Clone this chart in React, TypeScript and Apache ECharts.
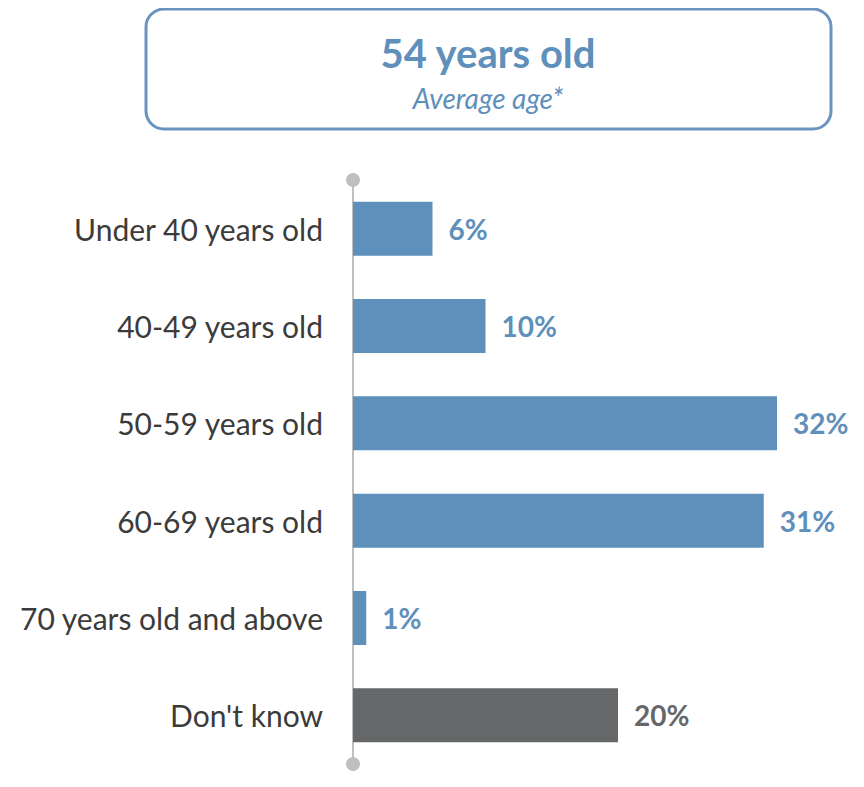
import React, { useEffect, useRef } from "react";
import * as echarts from "echarts";

const categories = [
  "Under 40 years old",
  "40-49 years old",
  "50-59 years old",
  "60-69 years old",
  "70 years old and above",
  "Don't know",
];
const values = [6, 10, 32, 31, 1, 20];
const isOther = [false, false, false, false, false, true];
const headline = "54 years old";
const subline = "Average age*";

const BLUE = "#5f8fbb";
const GRAY = "#666769";
const FONT = "Lato";

export default function App() {
  const ref = useRef<HTMLDivElement>(null);
  useEffect(() => {
    if (!ref.current) return;
    const chart = echarts.init(ref.current, null, { renderer: "svg" });
    chart.setOption({
      animation: false,
      textStyle: { fontFamily: FONT },
      grid: { left: 345, top: 172, height: 584, width: 424, containLabel: false },
      xAxis: {
        type: "value",
        min: 0,
        max: 32,
        show: false,
      },
      yAxis: {
        type: "category",
        data: categories,
        inverse: true,
        axisTick: { show: false },
        axisLine: {
          show: true,
          symbol: ["circle", "circle"],
          symbolSize: [14, 14],
          lineStyle: { color: "#bfbfbf", width: 2 },
        },
        axisLabel: {
          fontSize: 30,
          color: "#3b3b3b",
          margin: 30,
          fontFamily: FONT,
        },
      },
      series: [
        {
          type: "bar",
          barWidth: 54,
          data: values.map((v, i) => ({
            value: v,
            itemStyle: { color: isOther[i] ? GRAY : BLUE },
            label: { color: isOther[i] ? GRAY : BLUE },
          })),
          label: {
            show: true,
            position: "right",
            distance: 16,
            formatter: "{c}%",
            fontSize: 28,
            fontWeight: "bold",
            fontFamily: FONT,
          },
        },
      ],
      graphic: [
        {
          type: "rect",
          shape: { x: 138, y: 1, width: 685, height: 120, r: 18 },
          style: { fill: "#fff", stroke: "#6a93bf", lineWidth: 3 },
        },
        {
          type: "text",
          x: 480,
          y: 45,
          style: {
            text: headline,
            fontSize: 40,
            fontWeight: "bold",
            fontFamily: FONT,
            fill: BLUE,
            align: "center",
            verticalAlign: "middle",
          },
        },
        {
          type: "text",
          x: 480,
          y: 90,
          style: {
            text: subline,
            fontSize: 28,
            fontStyle: "italic",
            fontFamily: FONT,
            fill: BLUE,
            align: "center",
            verticalAlign: "middle",
          },
        },
      ],
    });
    return () => chart.dispose();
  }, []);
  return <div ref={ref} style={{ width: 864, height: 787 }} />;
}
